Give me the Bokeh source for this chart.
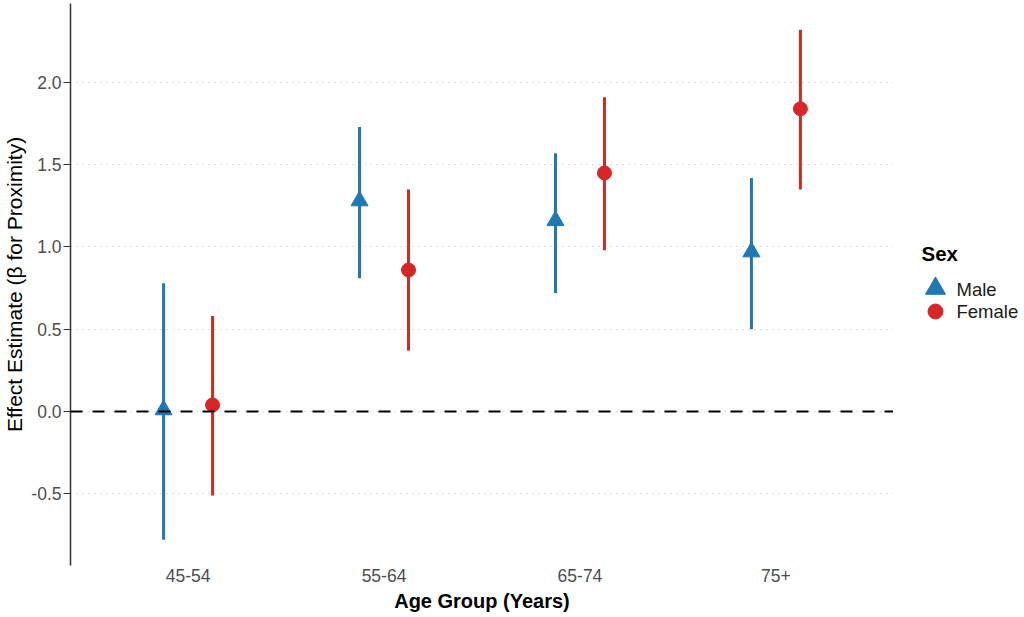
from bokeh.plotting import figure
from bokeh.layouts import row
from bokeh.models import (ColumnDataSource, FactorRange, FixedTicker, NumeralTickFormatter,
                          Range1d, Span)
from bokeh.core.properties import value
from bokeh.transform import dodge
from bokeh.embed import file_html
from bokeh.resources import INLINE

# values
age_groups = ["45-54", "55-64", "65-74", "75+"]
male_est = [0.01, 1.28, 1.16, 0.97]
male_lo = [-0.78, 0.81, 0.72, 0.50]
male_hi = [0.78, 1.73, 1.57, 1.42]
female_est = [0.04, 0.86, 1.45, 1.84]
female_lo = [-0.51, 0.37, 0.98, 1.35]
female_hi = [0.58, 1.35, 1.91, 2.32]
y_ticks = [-0.5, 0.0, 0.5, 1.0, 1.5, 2.0]
sexes = ["Male", "Female"]

BLUE = "#1f78b4"
RED = "#d62728"
FONT = "Liberation Sans"
FRAME_H = 562

src = ColumnDataSource(dict(age=age_groups,
                            m=male_est, m_lo=male_lo, m_hi=male_hi,
                            f=female_est, f_lo=female_lo, f_hi=female_hi))

p = figure(x_range=FactorRange(factors=age_groups, range_padding=0.1,
                               range_padding_units="absolute"),
           y_range=(-0.936, 2.48),
           frame_width=823, frame_height=FRAME_H, title=None,
           min_border_left=70, min_border_top=3, min_border_bottom=50, min_border_right=0,
           output_backend="svg", toolbar_location=None,
           x_axis_label="Age Group (Years)",
           y_axis_label="Effect Estimate (β for Proximity)")
p.outline_line_color = None

mx = dodge("age", -0.125, range=p.x_range)
fx = dodge("age", 0.125, range=p.x_range)

p.segment(x0=mx, y0="m_lo", x1=mx, y1="m_hi", source=src, line_color=BLUE, line_width=3)
p.segment(x0=fx, y0="f_lo", x1=fx, y1="f_hi", source=src, line_color=RED, line_width=3)
p.scatter(x=mx, y="m", source=src, marker="triangle", size=17,
          fill_color=BLUE, line_color=BLUE)
p.scatter(x=fx, y="f", source=src, marker="circle", size=14,
          fill_color=RED, line_color=RED)

p.add_layout(Span(location=0, dimension="width", line_color="black",
                  line_width=2, line_dash="12 10"))

# axes
p.yaxis.ticker = FixedTicker(ticks=y_ticks)
p.yaxis.formatter = NumeralTickFormatter(format="0.0")
p.yaxis.axis_line_color = "#333333"
p.yaxis.axis_line_width = 1.5
p.yaxis.major_tick_line_color = "#333333"
p.yaxis.major_tick_out = 7
p.yaxis.major_tick_in = 0
p.yaxis.minor_tick_line_color = None
p.yaxis.major_label_standoff = 2
p.yaxis.axis_label_text_font_style = "normal"
p.yaxis.axis_label_text_font_size = "21px"
p.yaxis.axis_label_standoff = 2

p.xaxis.axis_line_color = None
p.xaxis.major_tick_line_color = None
p.xaxis.major_tick_out = 0
p.xaxis.major_label_standoff = 3
p.xaxis.axis_label_text_font_style = "bold"
p.xaxis.axis_label_text_font_size = "20px"
p.xaxis.axis_label_standoff = 5

for ax in (p.xaxis, p.yaxis):
    ax.major_label_text_font = FONT
    ax.major_label_text_font_size = "17.5px"
    ax.major_label_text_color = "#4d4d4d"
    ax.axis_label_text_font = FONT
    ax.axis_label_text_color = "black"

p.xgrid.grid_line_color = None
p.ygrid.grid_line_color = "#bdbdbd"
p.ygrid.grid_line_dash = "1 5"
p.ygrid.grid_line_width = 1

# legend panel, drawn in pixel coordinates of the (aligned) frame
LW = 127
leg = figure(width=LW, height=3 + FRAME_H + 50, x_range=Range1d(0, LW),
             y_range=Range1d(FRAME_H, 0), title=None,
             min_border_left=0, min_border_right=0, min_border_top=3, min_border_bottom=50,
             output_backend="svg", toolbar_location=None)
leg.axis.visible = False
leg.grid.visible = False
leg.outline_line_color = None

leg_src = ColumnDataSource(dict(label=sexes, x=[42, 42], y=[285, 308], ty=[286, 308],
                                tx=[63, 63], marker=["triangle", "circle"], size=[20, 15],
                                color=[BLUE, RED]))
leg.scatter(x="x", y="y", marker="marker", size="size", fill_color="color",
            line_color="color", source=leg_src)
leg.text(x="tx", y="ty", text="label", source=leg_src, text_font=value(FONT),
         text_font_size="18.5px", text_color="#1a1a1a", text_baseline="middle",
         text_align="left")
leg.text(x=[28], y=[250], text=["Sex"], text_font=value(FONT), text_font_size="20.5px",
         text_font_style="bold", text_color="black", text_baseline="middle",
         text_align="left")

layout = row(p, leg)
open("out.html", "w").write(file_html(layout, INLINE))
